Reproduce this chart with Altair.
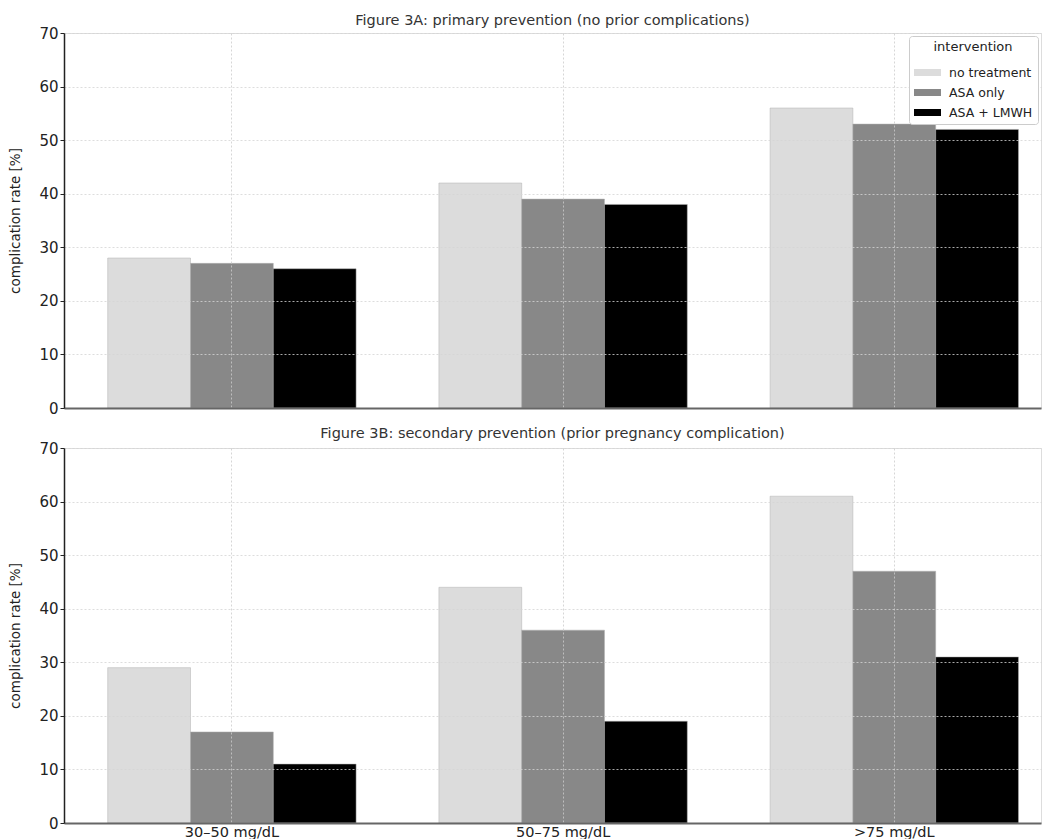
import altair as alt
import pandas as pd

categories = ["30–50 mg/dL", "50–75 mg/dL", ">75 mg/dL"]
interventions = ["no treatment", "ASA only", "ASA + LMWH"]
colors = ["#dcdcdc", "#888888", "#000000"]

primary_no = [28, 42, 56]
primary_asa = [27, 39, 53]
primary_lmwh = [26, 38, 52]

secondary_no = [29, 44, 61]
secondary_asa = [17, 36, 47]
secondary_lmwh = [11, 19, 31]

y_ticks = [0, 10, 20, 30, 40, 50, 60, 70]


def make_df(series):
    rows = []
    for name, vals in zip(interventions, series):
        for c, v in zip(categories, vals):
            rows.append({"level": c, "intervention": name, "rate": v})
    return pd.DataFrame(rows)


df_a = make_df([primary_no, primary_asa, primary_lmwh])
df_b = make_df([secondary_no, secondary_asa, secondary_lmwh])

W = 977
H = 375
FONT = "DejaVu Sans"

color_scale = alt.Scale(domain=interventions, range=colors)


def panel(df, title, show_labels, show_legend, title_offset):
    x_axis = alt.Axis(
        title=None,
        labels=show_labels,
        labelAngle=0,
        labelFontSize=14.5,
        labelColor="#222222",
        labelFont=FONT,
        labelBaseline="top",
        domainColor="#666666",
        domainWidth=2,
        ticks=False,
        grid=True,
        gridDash=[2, 2],
        gridColor="#cccccc",
        gridWidth=0.8,
        zindex=1,
        labelPadding=2,
    )
    y_axis = alt.Axis(
        title="complication rate [%]",
        values=y_ticks,
        titleFont=FONT,
        titleFontSize=13.5,
        titleFontWeight="normal",
        titleColor="#222222",
        titlePadding=16,
        labelFontSize=15,
        labelFont=FONT,
        labelColor="#222222",
        domainColor="#222222",
        domainWidth=1.5,
        tickColor="#222222",
        tickSize=4,
        grid=True,
        gridDash=[2, 2],
        gridColor="#d4d4d4",
        gridWidth=0.8,
        zindex=1,
    )
    color_kwargs = dict(scale=color_scale, sort=interventions)
    if show_legend:
        color_kwargs["legend"] = alt.Legend(
            title="intervention",
            orient="top-right",
            titleFont=FONT,
            titleFontSize=13,
            titleFontWeight="normal",
            titleColor="#222222",
            titleAnchor="middle",
            labelFont=FONT,
            labelFontSize=12.5,
            labelColor="#222222",
            symbolType="M-1,-0.26L1,-0.26L1,0.26L-1,0.26Z",
            symbolSize=729,
            symbolStrokeWidth=0,
            fillColor="white",
            strokeColor="#cccccc",
            cornerRadius=3,
            padding=5,
            offset=3,
            rowPadding=0,
            labelOffset=8,
        )
    else:
        color_kwargs["legend"] = None
    return (
        alt.Chart(df)
        .mark_bar(stroke="#b0b0b0", strokeWidth=0.5)
        .encode(
            x=alt.X("level:N", sort=categories, axis=x_axis,
                    scale=alt.Scale(paddingInner=0.25, paddingOuter=0.1, align=0.66)),
            xOffset=alt.XOffset("intervention:N", sort=interventions,
                                scale=alt.Scale(paddingInner=0, paddingOuter=0)),
            y=alt.Y("rate:Q", axis=y_axis, scale=alt.Scale(domain=[0, 70], nice=False)),
            color=alt.Color("intervention:N", **color_kwargs),
        )
        .properties(
            width=W,
            height=H,
            title=alt.TitleParams(
                title, font=FONT, fontSize=14.5, fontWeight="normal",
                color="#333333", anchor="middle", offset=title_offset,
            ),
        )
    )


top = panel(df_a, "Figure 3A: primary prevention (no prior complications)", False, True, -2)
bottom = panel(df_b, "Figure 3B: secondary prevention (prior pregnancy complication)", True, False, 0)

chart = (
    alt.vconcat(top, bottom, spacing=8)
    .configure_view(stroke=None)
    .configure(padding={"left": 0, "top": 4, "right": 0, "bottom": 0})
)

chart.save("out.html", embed_options={"renderer": "svg", "actions": False})
